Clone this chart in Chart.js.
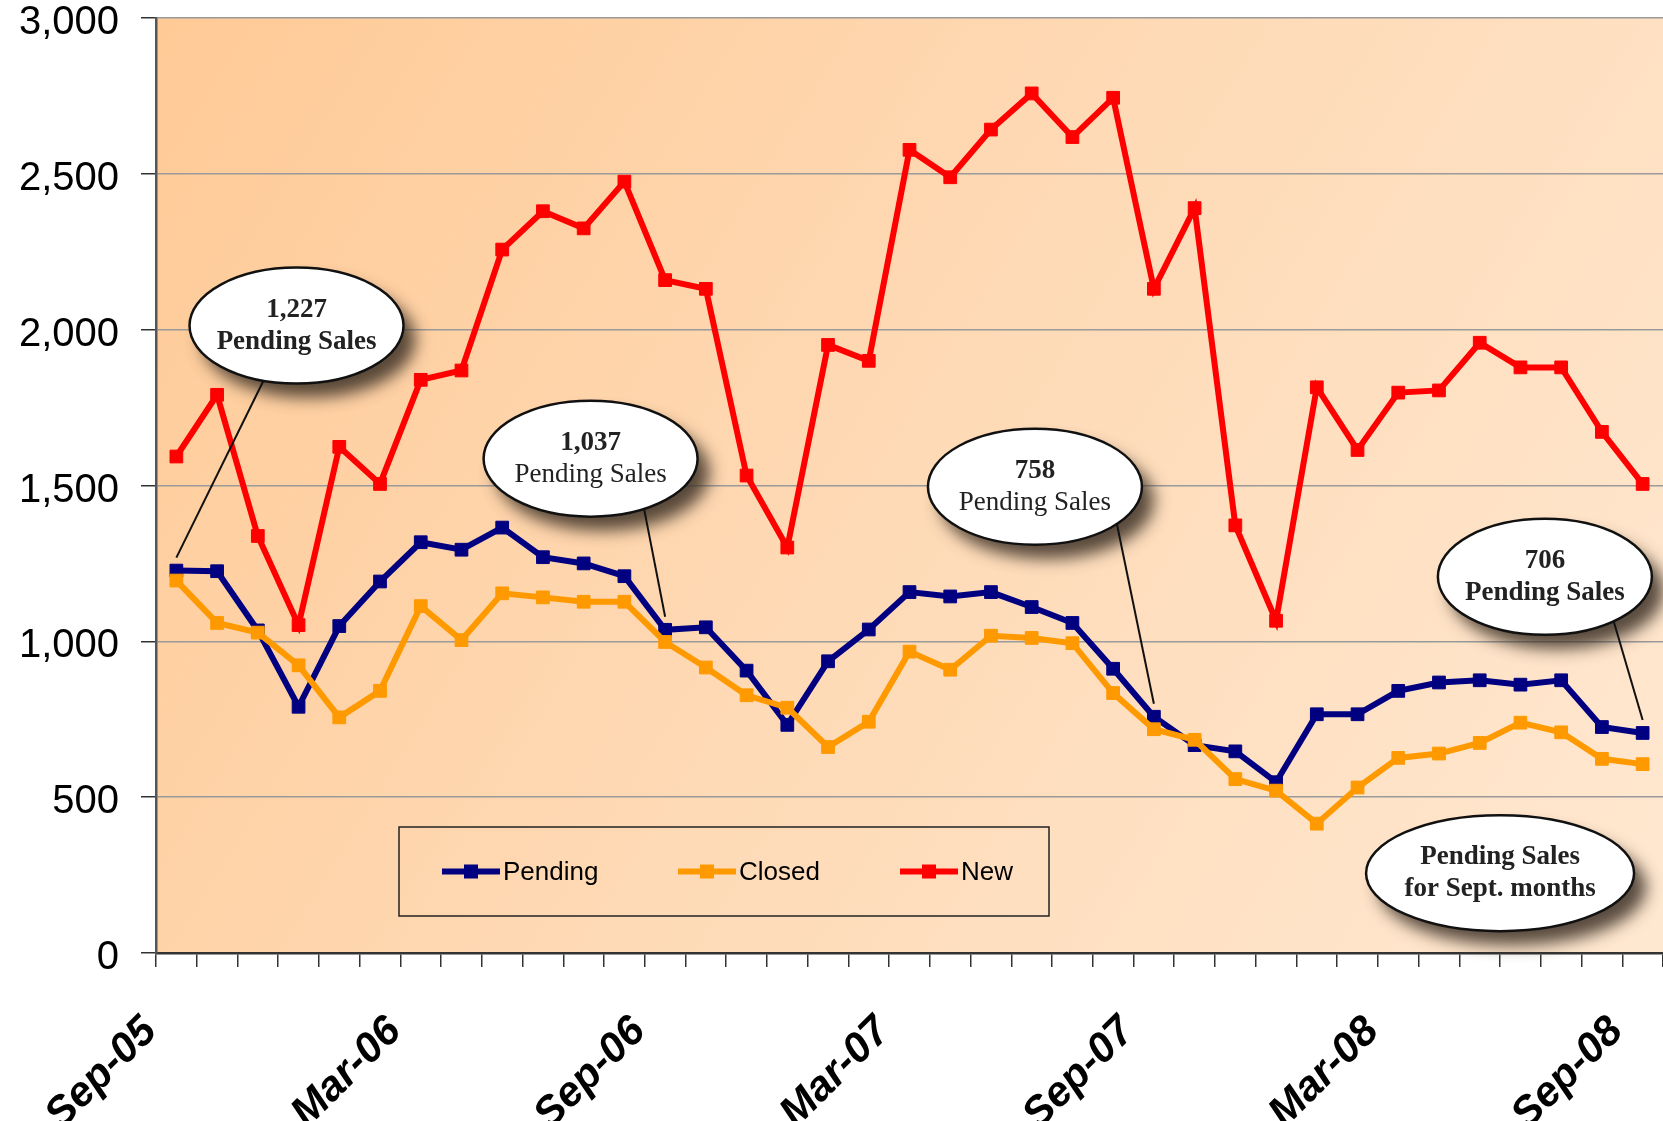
<!DOCTYPE html>
<html>
<head>
<meta charset="utf-8">
<script src="https://cdn.jsdelivr.net/npm/chart.js@4.4.0/dist/chart.umd.min.js"></script>
<style>
  html, body { margin: 0; padding: 0; background: #fff; overflow: hidden; }
  #wrap { width: 1663px; height: 1121px; position: relative; }
</style>
</head>
<body>
<div id="wrap"><canvas id="salesChart"></canvas></div>
<script>
// Monthly listings, Sep-05 .. Sep-08
const months = [
  'Sep-05', 'Oct-05', 'Nov-05', 'Dec-05', 'Jan-06', 'Feb-06', 'Mar-06', 'Apr-06', 'May-06',
  'Jun-06', 'Jul-06', 'Aug-06', 'Sep-06', 'Oct-06', 'Nov-06', 'Dec-06', 'Jan-07', 'Feb-07',
  'Mar-07', 'Apr-07', 'May-07', 'Jun-07', 'Jul-07', 'Aug-07', 'Sep-07', 'Oct-07', 'Nov-07',
  'Dec-07', 'Jan-08', 'Feb-08', 'Mar-08', 'Apr-08', 'May-08', 'Jun-08', 'Jul-08', 'Aug-08', 'Sep-08'
];

const pending = [
  1227, 1225, 1035, 790, 1049, 1192, 1318, 1294, 1365, 1270, 1250, 1209,
  1037, 1045, 906, 732, 936, 1038, 1158, 1144, 1158, 1110, 1059, 912,
  758, 667, 647, 548, 766, 766, 841, 868, 875, 861, 875, 725, 706
];

const closed = [
  1195, 1059, 1028, 923, 756, 841, 1113, 1004, 1154, 1141, 1127, 1127,
  998, 916, 827, 787, 661, 742, 967, 909, 1018, 1011, 994, 834,
  718, 684, 558, 521, 415, 531, 626, 640, 674, 739, 708, 623, 606
];

const newListings = [
  1593, 1791, 1338, 1052, 1624, 1505, 1839, 1869, 2257, 2380, 2325, 2475,
  2159, 2131, 1532, 1301, 1951, 1900, 2577, 2489, 2642, 2758, 2618, 2744,
  2131, 2390, 1372, 1066, 1815, 1614, 1798, 1805, 1958, 1879, 1879, 1672, 1505
];

const yTicks = [0, 500, 1000, 1500, 2000, 2500, 3000];

// callouts pointing at September pending values (index into months)
const septIdx = [0, 12, 24, 36];

// plot background gradient
const plotBg = {
  id: 'plotBg',
  beforeDraw(chart) {
    const { ctx, chartArea: a } = chart;
    const g = ctx.createLinearGradient(a.left, a.top, a.right, a.bottom);
    g.addColorStop(0, '#ffca96');
    g.addColorStop(0.5, '#fedab6');
    g.addColorStop(1, '#ffe8d1');
    ctx.save();
    ctx.fillStyle = g;
    ctx.fillRect(a.left, a.top, a.width, a.height);
    ctx.restore();
  }
};

// legend box drawn inside the plot
const legendBox = {
  id: 'legendBox',
  afterDatasetsDraw(chart) {
    const { ctx, chartArea: a } = chart;
    const bx = a.left + 243, by = a.top + 809, bw = 650, bh = 89;
    ctx.save();
    ctx.strokeStyle = '#222';
    ctx.lineWidth = 1.5;
    ctx.strokeRect(bx, by, bw, bh);
    const offs = [43, 279, 501];
    const cy = by + bh / 2;
    chart.data.datasets.forEach((ds, i) => {
      const x = bx + offs[i];
      ctx.strokeStyle = ds.borderColor;
      ctx.lineWidth = 6;
      ctx.beginPath();
      ctx.moveTo(x, cy);
      ctx.lineTo(x + 58, cy);
      ctx.stroke();
      ctx.fillStyle = ds.borderColor;
      ctx.fillRect(x + 29 - 7, cy - 7, 14, 14);
      ctx.fillStyle = '#000';
      ctx.font = '26px "Liberation Sans", Arial, sans-serif';
      ctx.textBaseline = 'middle';
      ctx.textAlign = 'left';
      ctx.fillText(ds.label, x + 61, cy + 1);
    });
    ctx.restore();
  }
};

function drawEllipse(ctx, cx, cy, rx, ry) {
  ctx.save();
  ctx.shadowColor = 'rgba(60, 48, 38, 0.85)';
  ctx.shadowBlur = 16;
  ctx.shadowOffsetX = 12;
  ctx.shadowOffsetY = 14;
  ctx.fillStyle = '#fff';
  ctx.beginPath();
  ctx.ellipse(cx, cy, rx, ry, 0, 0, Math.PI * 2);
  ctx.fill();
  ctx.restore();
  ctx.save();
  ctx.strokeStyle = '#111';
  ctx.lineWidth = 2.5;
  ctx.beginPath();
  ctx.ellipse(cx, cy, rx, ry, 0, 0, Math.PI * 2);
  ctx.stroke();
  ctx.restore();
}

function drawLines(ctx, cx, cy, lines) {
  ctx.save();
  ctx.fillStyle = '#222';
  ctx.textAlign = 'center';
  ctx.textBaseline = 'middle';
  lines.forEach((ln, i) => {
    ctx.font = (ln.bold ? 'bold ' : '') + '27px "Liberation Serif", "Times New Roman", serif';
    ctx.fillText(ln.text, cx, cy + (i - (lines.length - 1) / 2) * 32);
  });
  ctx.restore();
}

const callouts = {
  id: 'callouts',
  afterDatasetsDraw(chart) {
    const { ctx } = chart;
    const xs = chart.scales.x, ys = chart.scales.y;
    // centre (month index, value), leader start angle, bold flags
    const spots = [
      { at: [2.95, 2013], ang: 108, bold: [true, true] },
      { at: [10.17, 1586], ang: 60, bold: [true, false] },
      { at: [21.08, 1496], ang: 40, bold: [true, false] },
      { at: [33.6, 1207], ang: 50, bold: [true, true] }
    ];
    const rx = 107, ry = 58;
    septIdx.forEach((idx, k) => {
      const s = spots[k];
      const cx = xs.getPixelForValue(s.at[0]);
      const cy = ys.getPixelForValue(s.at[1]);
      drawEllipse(ctx, cx, cy, rx, ry);
      const t = s.ang * Math.PI / 180;
      const px = xs.getPixelForValue(idx);
      const py = ys.getPixelForValue(pending[idx]) - 13;
      ctx.save();
      ctx.strokeStyle = '#111';
      ctx.lineWidth = 2;
      ctx.beginPath();
      ctx.moveTo(cx + rx * Math.cos(t), cy + ry * Math.sin(t));
      ctx.lineTo(px, py);
      ctx.stroke();
      ctx.restore();
      drawLines(ctx, cx, cy, [
        { text: pending[idx].toLocaleString('en-US'), bold: s.bold[0] },
        { text: 'Pending Sales', bold: s.bold[1] }
      ]);
    });
    // caption bubble
    const cx = xs.getPixelForValue(32.5), cy = ys.getPixelForValue(256);
    drawEllipse(ctx, cx, cy, 134, 58);
    drawLines(ctx, cx, cy, [
      { text: 'Pending Sales', bold: true },
      { text: 'for Sept. months', bold: true }
    ]);
  }
};

const ctx = document.getElementById('salesChart').getContext('2d');
const salesChart = new Chart(ctx, {
  type: 'line',
  data: {
    labels: months,
    datasets: [
      {
        label: 'Pending',
        data: pending,
        borderColor: '#000080',
        backgroundColor: '#000080',
        borderWidth: 6,
        pointStyle: 'rect',
        pointRadius: 9,
        pointBorderWidth: 1,
        tension: 0,
        order: 3
      },
      {
        label: 'Closed',
        data: closed,
        borderColor: '#ff9900',
        backgroundColor: '#ff9900',
        borderWidth: 6,
        pointStyle: 'rect',
        pointRadius: 9,
        pointBorderWidth: 1,
        tension: 0,
        order: 2
      },
      {
        label: 'New',
        data: newListings,
        borderColor: '#ff0000',
        backgroundColor: '#ff0000',
        borderWidth: 6,
        pointStyle: 'rect',
        pointRadius: 9,
        pointBorderWidth: 1,
        tension: 0,
        order: 1
      }
    ]
  },
  options: {
    responsive: true,
    maintainAspectRatio: false,
    animation: false,
    layout: { autoPadding: false, padding: { top: 18, right: 0, left: 0, bottom: 0 } },
    plugins: {
      legend: { display: false },
      tooltip: { enabled: false }
    },
    scales: {
      x: {
        offset: true,
        grid: {
          offset: true,
          drawOnChartArea: false,
          drawTicks: true,
          tickLength: 14,
          tickColor: '#333',
          lineWidth: 1.5
        },
        border: { color: '#333', width: 2.5 },
        ticks: {
          autoSkip: false,
          maxRotation: 45,
          minRotation: 45,
          padding: 40,
          labelOffset: -26,
          color: '#000',
          font: { family: '"Liberation Sans", Arial, sans-serif', size: 42, weight: 'bold', style: 'italic' },
          callback: function (v, i) { return i % 6 === 0 ? this.getLabelForValue(v) : ''; }
        },
        afterFit: (s) => {
          s.height = 168;
          s.paddingLeft = 0;
          s.paddingRight = 0;
        }
      },
      y: {
        min: 0,
        max: 3000,
        afterBuildTicks: (s) => { s.ticks = yTicks.map(v => ({ value: v })); },
        grid: {
          color: '#9a9a9a',
          lineWidth: 1.5,
          tickLength: 15,
          tickColor: '#333'
        },
        border: { color: '#555', width: 2.5 },
        ticks: {
          padding: 22,
          labelOffset: 5,
          color: '#000',
          font: { family: '"Liberation Sans", Arial, sans-serif', size: 40 },
          callback: (v) => v.toLocaleString('en-US')
        },
        afterFit: (s) => {
          s.width = 156;
          s.paddingTop = 0;
          s.paddingBottom = 0;
        }
      }
    }
  },
  plugins: [plotBg, legendBox, callouts]
});
</script>
</body>
</html>
